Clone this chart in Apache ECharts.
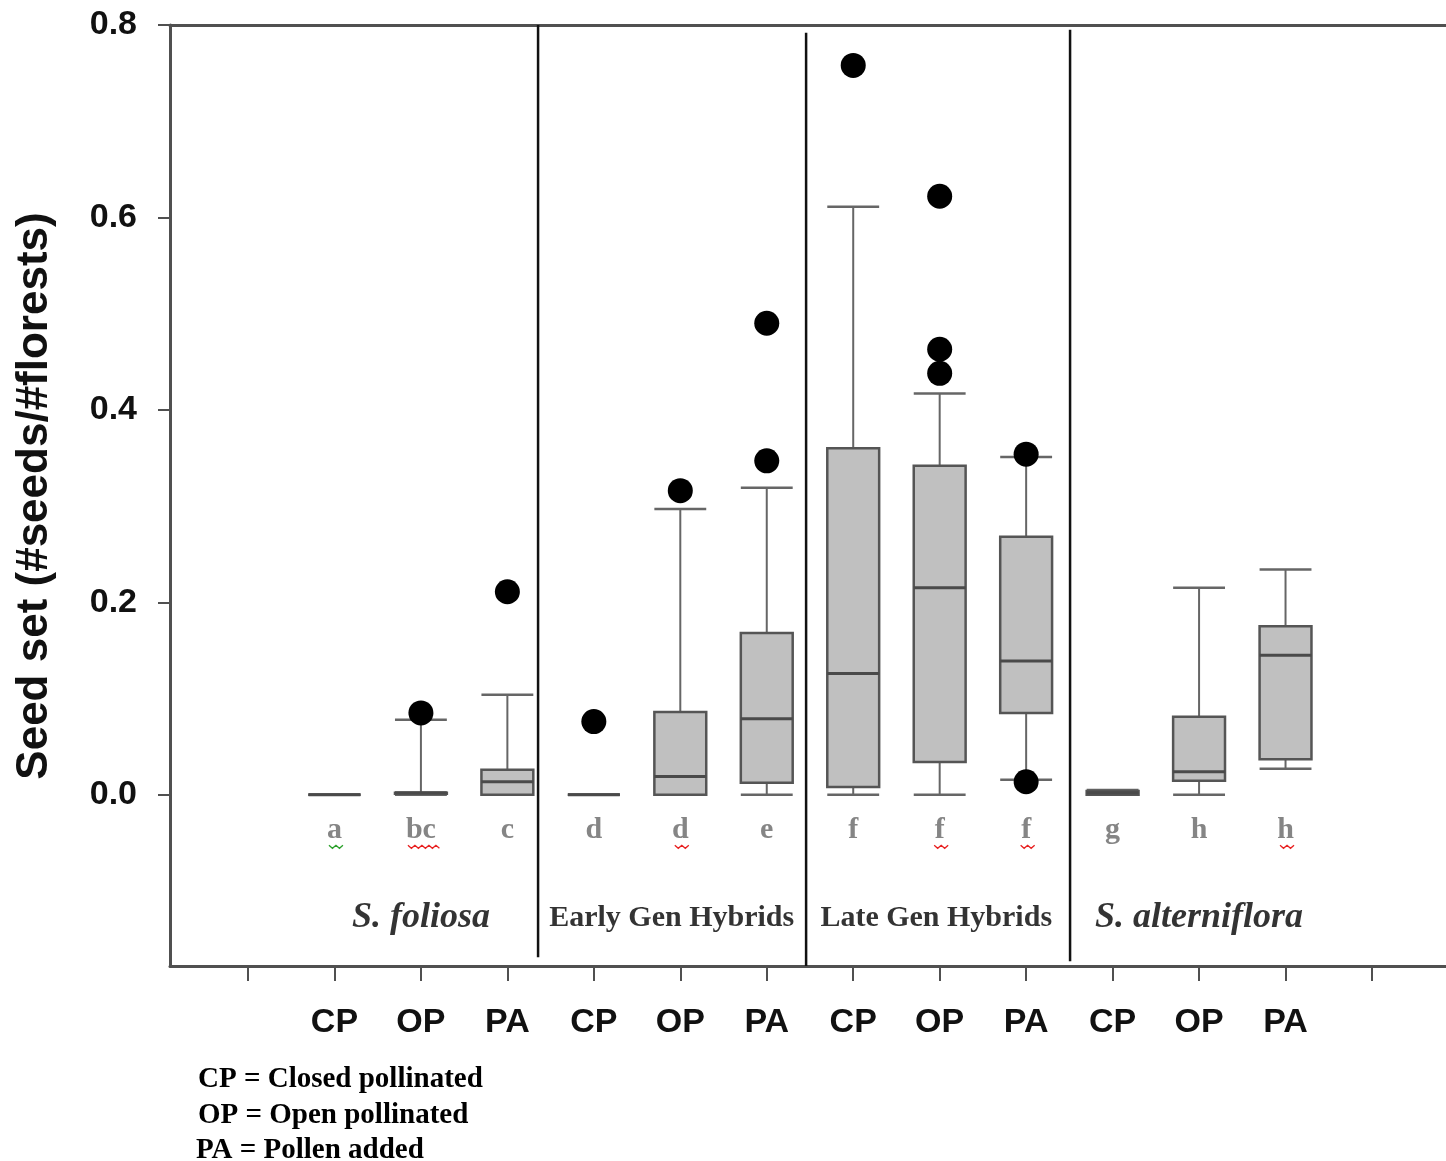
<!DOCTYPE html>
<html>
<head>
<meta charset="utf-8">
<script src="https://cdn.jsdelivr.net/npm/echarts@6/dist/echarts.min.js"></script>
<style>
  html, body { margin: 0; padding: 0; background: #fff; }
  #chart { width: 1446px; height: 1161px; }
</style>
</head>
<body>
<div id="chart"></div>
<script>
// Treatment slots along the x axis (one per box)
const positions = [2, 3, 4, 5, 6, 7, 8, 9, 10, 11, 12, 13];
const treatments = ['CP', 'OP', 'PA', 'CP', 'OP', 'PA', 'CP', 'OP', 'PA', 'CP', 'OP', 'PA'];
const letters = ['a', 'bc', 'c', 'd', 'd', 'e', 'f', 'f', 'f', 'g', 'h', 'h'];

// Box-plot statistics, seed set (#seeds/#florests)
const whiskerLow  = [0, 0,     0,      0, 0,     0,      0,     0,     0.0155, 0,     0,      0.027];
const q1          = [0, 0.001, 0,      0, 0,     0.0125, 0.008, 0.034, 0.085,  0,     0.0145, 0.037];
const median      = [0, 0.002, 0.0135, 0, 0.019, 0.079,  0.126, 0.215, 0.139,  0.002, 0.024,  0.145];
const q3          = [0, 0.002, 0.026,  0, 0.086, 0.168,  0.360, 0.342, 0.268,  0.004, 0.081,  0.175];
const whiskerHigh = [0, 0.078, 0.104,  0, 0.297, 0.319,  0.611, 0.417, 0.351,  0.005, 0.215,  0.234];

// Outlying observations: [slot, value]
const outliers = [
  [3, 0.085], [4, 0.211],
  [5, 0.076], [6, 0.316], [7, 0.347], [7, 0.490],
  [8, 0.758], [9, 0.622], [9, 0.463], [9, 0.438], [10, 0.354], [10, 0.0135]
];

// Plant groups and where their captions sit on the x scale
const groups = ['S. foliosa', 'Early Gen Hybrids', 'Late Gen Hybrids', 'S. alterniflora'];
const groupCenters = [3.0, 5.9, 8.96, 12.0];
const groupItalic = [true, false, false, true];

// Proofing underlines beneath some letters: [slot, kind]
const flagged = [[2, 'grammar'], [3, 'spelling'], [6, 'spelling'], [9, 'spelling'], [10, 'spelling'], [13, 'spelling']];

// Abbreviation key under the axis
const keyLines = ['CP = Closed pollinated', 'OP = Open pollinated', 'PA = Pollen added'];

const yTicks = [0, 0.2, 0.4, 0.6, 0.8];
const xTicks = [1, 2, 3, 4, 5, 6, 7, 8, 9, 10, 11, 12, 13, 14];

const AXIS = '#505050';
const SERIF = '"Liberation Serif", "DejaVu Serif", serif';
const SANS = '"Liberation Sans", Arial, sans-serif';

const LETTER_Y = -0.037;
const GROUP_Y = -0.128;

const boxData = positions.map((p, i) => [p, whiskerLow[i], q1[i], median[i], q3[i], whiskerHigh[i]]);

// Divider lines between plant groups: [x, yTop, yBottom]
const dividers = [[4.355, 0.8, -0.169], [7.455, 0.792, -0.178], [10.508, 0.795, -0.173]];

const chart = echarts.init(document.getElementById('chart'));

chart.setOption({
  animation: false,
  backgroundColor: '#fff',
  grid: { left: 170, right: 0, top: 25, bottom: 195, containLabel: false },
  xAxis: [
    {
      type: 'value', min: 0.098, max: 14.856, position: 'bottom',
      axisLine: { show: true, onZero: false, lineStyle: { color: AXIS, width: 3 } },
      axisTick: { show: true, customValues: xTicks, length: 15, lineStyle: { color: AXIS, width: 2 } },
      axisLabel: {
        show: true, customValues: positions, margin: 40,
        formatter: v => treatments[positions.indexOf(Math.round(v))] || '',
        fontFamily: SANS, fontWeight: 'bold', fontSize: 34, color: '#111'
      },
      splitLine: { show: false }
    },
    {
      type: 'value', min: 0.098, max: 14.856, position: 'top',
      axisLine: { show: true, onZero: false, lineStyle: { color: AXIS, width: 3 } },
      axisTick: { show: false }, axisLabel: { show: false }, splitLine: { show: false }
    }
  ],
  yAxis: {
    type: 'value', min: -0.178, max: 0.8,
    axisLine: { show: true, onZero: false, lineStyle: { color: AXIS, width: 3 } },
    axisTick: { show: true, customValues: yTicks, length: 12, lineStyle: { color: AXIS, width: 2 } },
    axisLabel: {
      show: true, customValues: yTicks, margin: 33,
      formatter: v => v.toFixed(1),
      fontFamily: SANS, fontWeight: 'bold', fontSize: 34, color: '#111'
    },
    splitLine: { show: false }
  },
  series: [
    {
      type: 'custom',
      name: 'dividers',
      data: dividers,
      encode: { x: 0, y: [1, 2] },
      renderItem: (params, api) => {
        const a = api.coord([api.value(0), api.value(1)]);
        const b = api.coord([api.value(0), api.value(2)]);
        return {
          type: 'line',
          shape: { x1: a[0], y1: a[1], x2: b[0], y2: b[1] },
          style: { stroke: '#111', lineWidth: 2.5 }
        };
      },
      z: 1
    },
    {
      type: 'custom',
      name: 'boxes',
      data: boxData,
      encode: { x: 0, y: [1, 2, 3, 4, 5] },
      renderItem: (params, api) => {
        const x = api.value(0);
        const half = api.size([0.6, 0])[0] / 2;
        const pLow = api.coord([x, api.value(1)]);
        const pQ1 = api.coord([x, api.value(2)]);
        const pMed = api.coord([x, api.value(3)]);
        const pQ3 = api.coord([x, api.value(4)]);
        const pHigh = api.coord([x, api.value(5)]);
        const cx = pQ1[0];
        const line = (x1, y1, x2, y2, w, c) => ({
          type: 'line', shape: { x1, y1, x2, y2 },
          style: { stroke: c || '#666', lineWidth: w || 2 }
        });
        return {
          type: 'group',
          children: [
            line(cx, pHigh[1], cx, pQ3[1]),
            line(cx, pQ1[1], cx, pLow[1]),
            line(cx - half, pHigh[1], cx + half, pHigh[1], 2.5),
            line(cx - half, pLow[1], cx + half, pLow[1], 2.5),
            {
              type: 'rect',
              shape: { x: cx - half, y: pQ3[1], width: half * 2, height: pQ1[1] - pQ3[1] },
              style: { fill: '#c0c0c0', stroke: '#555', lineWidth: 2.5 }
            },
            line(cx - half, pMed[1], cx + half, pMed[1], 3, '#4a4a4a')
          ]
        };
      },
      z: 2
    },
    {
      type: 'scatter',
      name: 'outliers',
      data: outliers,
      symbol: 'circle',
      symbolSize: 25,
      itemStyle: { color: '#000', opacity: 1 },
      z: 3
    },
    {
      type: 'scatter',
      name: 'letters',
      data: positions.map((p, i) => ({ value: [p, LETTER_Y], name: letters[i] })),
      symbolSize: 0,
      label: {
        show: true, position: 'inside', formatter: p => p.name,
        fontFamily: SERIF, fontWeight: 'bold', fontSize: 30, color: '#666'
      },
      z: 4
    },
    {
      // wavy proofing marks under the flagged letters
      type: 'custom',
      name: 'proofing',
      data: flagged.map(f => [f[0], LETTER_Y]),
      encode: { x: 0, y: 1 },
      renderItem: (params, api) => {
        const kind = flagged[params.dataIndex][1];
        const txt = letters[positions.indexOf(api.value(0))] || '';
        const c = api.coord([api.value(0), api.value(1)]);
        const w = txt.length * 15 + 2;
        const pts = [];
        const step = 3.5;
        const x0 = c[0] - w / 2 + 3;
        const y0 = c[1] + 15;
        for (let k = 0; x0 + k * step <= x0 + w; k++) {
          pts.push([x0 + k * step, y0 + (k % 2 ? 3 : 0)]);
        }
        return {
          type: 'polyline',
          shape: { points: pts },
          style: { stroke: kind === 'grammar' ? '#2aa02a' : '#e82020', lineWidth: 1.3, fill: null }
        };
      },
      z: 4
    },
    {
      type: 'scatter',
      name: 'groups',
      data: groups.map((g, i) => ({
        value: [groupCenters[i], GROUP_Y], name: g,
        label: groupItalic[i] ? { fontStyle: 'italic', fontSize: 36 } : { fontStyle: 'normal', fontSize: 30 }
      })),
      symbolSize: 0,
      label: {
        show: true, position: 'inside', formatter: p => p.name,
        fontFamily: SERIF, fontWeight: 'bold', fontSize: 30, color: '#000'
      },
      z: 4
    }
  ],
  graphic: [
    {
      type: 'text', x: 35, y: 496, rotation: Math.PI / 2,
      style: {
        text: 'Seed set (#seeds/#florests)', x: 0, y: 0,
        align: 'center', verticalAlign: 'middle',
        font: 'bold 44px "Liberation Sans", Arial, sans-serif', fill: '#111'
      }
    },
    {
      type: 'text', x: 198, y: 1080,
      style: { text: keyLines[0], verticalAlign: 'middle', font: 'bold 29px "Liberation Serif", serif', fill: '#000' }
    },
    {
      type: 'text', x: 198, y: 1116,
      style: { text: keyLines[1], verticalAlign: 'middle', font: 'bold 29px "Liberation Serif", serif', fill: '#000' }
    },
    {
      type: 'text', x: 196, y: 1151,
      style: { text: keyLines[2], verticalAlign: 'middle', font: 'bold 29px "Liberation Serif", serif', fill: '#000' }
    }
  ]
});
</script>
</body>
</html>
